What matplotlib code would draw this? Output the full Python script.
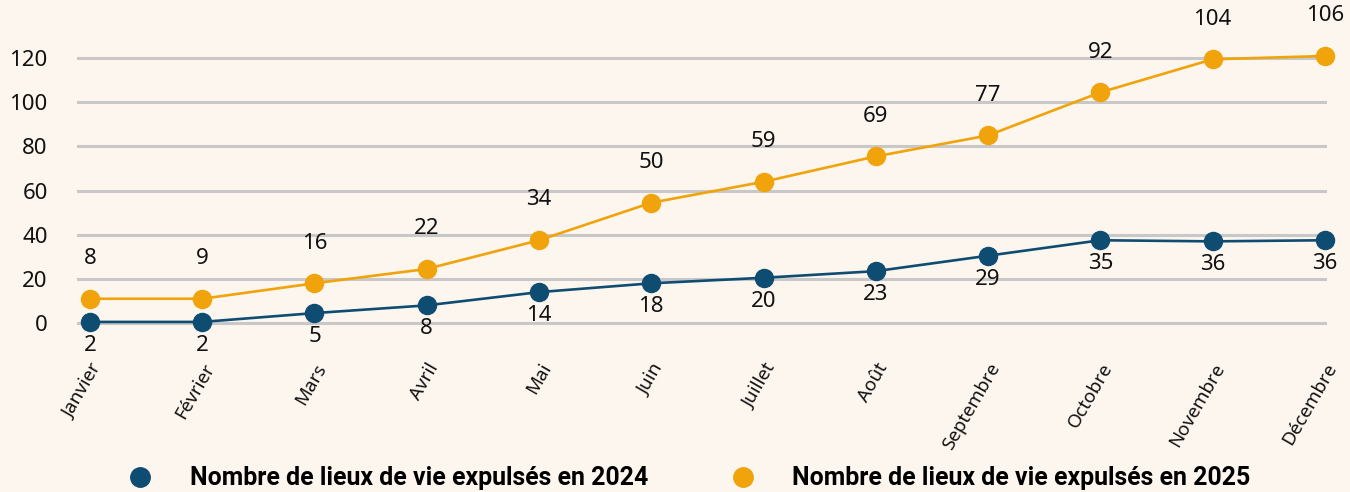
import matplotlib
matplotlib.use('Agg')
import matplotlib.pyplot as plt
from matplotlib.lines import Line2D

plt.rcParams['font.family'] = ['Noto Sans', 'DejaVu Sans']

# données
mois = ['Janvier', 'Février', 'Mars', 'Avril', 'Mai', 'Juin', 'Juillet',
        'Août', 'Septembre', 'Octobre', 'Novembre', 'Décembre']
val_2024 = [0.5, 0.5, 4.5, 8, 14, 18, 20.5, 23.5, 30.5, 37.5, 37, 37.5]
val_2025 = [11, 11, 18, 24.5, 37.5, 54.5, 64, 75.5, 85, 104.5, 119.5, 121]
lab_2024 = [2, 2, 5, 8, 14, 18, 20, 23, 29, 35, 36, 36]
lab_2025 = [8, 9, 16, 22, 34, 50, 59, 69, 77, 92, 104, 106]
yticks = [0, 20, 40, 60, 80, 100, 120]
leg_2024 = 'Nombre de lieux de vie expulsés en 2024'
leg_2025 = 'Nombre de lieux de vie expulsés en 2025'

bleu = '#0f4c72'
orange = '#f0a30a'
fond = '#fdf6ee'

fig = plt.figure(figsize=(13.5, 4.92), dpi=100, facecolor=fond)
ax = fig.add_axes([0.057, 0.330, 0.926, 0.619])
ax.set_facecolor(fond)

x = list(range(len(mois)))
ax.plot(x, val_2024, color=bleu, lw=1.9, marker='o', ms=13, clip_on=False, zorder=3)
ax.plot(x, val_2025, color=orange, lw=1.9, marker='o', ms=13, clip_on=False, zorder=3)

for i in x:
    ax.annotate(str(lab_2025[i]), (i, val_2025[i]), xytext=(0, 29), textcoords='offset points',
                ha='center', va='center', fontsize=16, color='#111111')
    ax.annotate(str(lab_2024[i]), (i, val_2024[i]), xytext=(0, -17), textcoords='offset points',
                ha='center', va='center', fontsize=16, color='#111111')

ax.set_xlim(-0.116, 11.02)
ax.set_ylim(-3, 135)
ax.set_yticks(yticks)
ax.set_yticklabels([str(v) for v in yticks], fontsize=16, color='#111111')
ax.yaxis.grid(True, color='#c8c8c8', lw=2.2)
ax.set_axisbelow(True)
ax.tick_params(axis='y', length=0, pad=21)
ax.tick_params(axis='x', length=0, pad=22)
ax.set_xticks(x)
ax.set_xticklabels(mois, rotation=60, ha='right', va='top', rotation_mode='anchor',
                   fontsize=13.5, color='#111111')
for s in ax.spines.values():
    s.set_visible(False)

handles = [Line2D([], [], ls='none', marker='o', ms=14, color=bleu),
           Line2D([], [], ls='none', marker='o', ms=14, color=orange)]
fig.legend(handles, [leg_2024, leg_2025], loc='center', bbox_to_anchor=(0.506, 0.028),
           ncol=2, frameon=False, handletextpad=1.0, columnspacing=2.8,
           prop={'family': 'Roboto', 'weight': 'bold', 'size': 17.9})

plt.savefig('out.png', dpi=100, facecolor=fond)
